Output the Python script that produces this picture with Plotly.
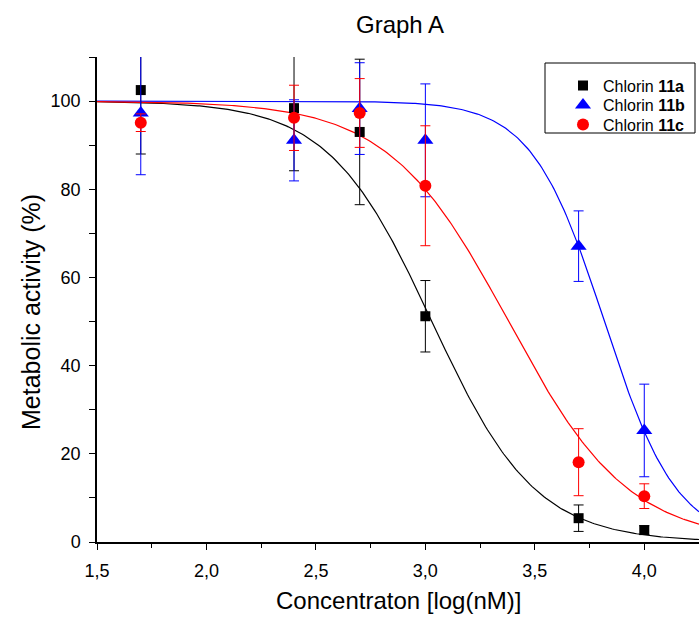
import numpy as np
import plotly.graph_objects as go

# Measured data (log concentration, % metabolic activity, SD)
conc = [1.7, 2.4, 2.7, 3.0, 3.7, 4.0]
y_11a = [102.5, 98.4, 93.0, 51.2, 5.4, 2.7]
e_11a = [14.5, 14.2, 16.5, 8.1, 3.0, 1.0]
y_11b = [97.3, 91.1, 98.3, 91.1, 67.1, 25.3]
e_11b = [14.0, 9.2, 10.4, 12.8, 8.0, 10.5]
y_11c = [95.1, 96.2, 97.3, 80.8, 18.1, 10.4]
e_11c = [2.0, 7.4, 7.8, 13.6, 7.6, 2.8]

# Fitted dose-response parameters (logIC50, Hill slope)
fit_11a = (3.03, 1.84)
fit_11b = (3.818, 2.62)
fit_11c = (3.38, 1.58)
top, bottom = 100.0, 0.0

names = ["Chlorin <b>11a</b>", "Chlorin <b>11b</b>", "Chlorin <b>11c</b>"]
colors = ["black", "blue", "red"]
symbols = ["square", "triangle-up", "circle"]
sizes = [10, 14, 12]
legends = ["legend", "legend2", "legend3"]

xs = np.linspace(1.5, 4.25, 300)

def curve(p):
    logic50, h = p
    return bottom + (top - bottom) / (1 + 10 ** (h * (xs - logic50)))

fig = go.Figure()
for p, c in zip([fit_11a, fit_11b, fit_11c], colors):
    fig.add_trace(go.Scatter(x=xs, y=curve(p), mode="lines",
                             line=dict(color=c, width=1.2),
                             showlegend=False, hoverinfo="skip"))

for ys, es, n, c, s, sz, lg in zip([y_11a, y_11b, y_11c], [e_11a, e_11b, e_11c],
                                   names, colors, symbols, sizes, legends):
    fig.add_trace(go.Scatter(x=conc, y=ys, mode="markers", name=n, legend=lg,
                             marker=dict(color=c, symbol=s, size=sz),
                             error_y=dict(type="data", array=es, visible=True,
                                          color=c, thickness=1, width=5)))

font = "Liberation Sans, Arial, sans-serif"
# legend frame
fig.add_shape(type="rect", xref="paper", yref="paper",
              x0=(545 - 97) / 602, x1=(695 - 97) / 602,
              y0=(542 - 133) / 485, y1=(542 - 63) / 485,
              line=dict(color="black", width=1), fillcolor="white", layer="above")

def leg(row_y):
    return dict(x=(563 - 97) / 602, y=(542 - row_y) / 485, xanchor="left",
                yanchor="middle", borderwidth=0, bgcolor="rgba(0,0,0,0)",
                font=dict(size=16, family=font), itemwidth=30)

# axis titles placed as annotations for exact positions
fig.add_annotation(text="Concentraton [log(nM)]", xref="paper", yref="paper",
                   x=0.5, y=(542 - 600) / 485, xanchor="center", yanchor="middle",
                   showarrow=False, font=dict(size=24, family=font, color="black"))
fig.add_annotation(text="Metabolic activity (%)", xref="paper", yref="paper",
                   x=(31 - 97) / 602, y=(542 - 312) / 485, xanchor="center",
                   yanchor="middle", textangle=-90, showarrow=False,
                   font=dict(size=25, family=font, color="black"))

fig.update_layout(
    width=699, height=623,
    margin=dict(l=97, r=0, t=57, b=81),
    paper_bgcolor="white", plot_bgcolor="white",
    separators=", ",
    font=dict(family=font, color="black"),
    title=dict(text="Graph A", x=400 / 699, xref="container", xanchor="center",
               y=1 - 25 / 623, yref="container", yanchor="middle",
               font=dict(size=24, family=font, color="black")),
    legend=leg(85.5), legend2=leg(105), legend3=leg(124.5),
    showlegend=True,
)
fig.update_xaxes(range=[1.5, 4.25], tickvals=[1.5, 2.0, 2.5, 3.0, 3.5, 4.0],
                 tickformat=".1f", showline=True, linecolor="black", linewidth=1.5,
                 ticks="outside", ticklen=6, tickwidth=1.3, tickcolor="black",
                 minor=dict(dtick=0.25, tick0=1.5, ticks="outside", ticklen=4,
                            tickwidth=1.3, tickcolor="black"),
                 showgrid=False, zeroline=False, ticklabelstandoff=6,
                 tickfont=dict(size=18, family=font))
fig.update_yaxes(range=[0, 110], tickvals=[0, 20, 40, 60, 80, 100],
                 showline=True, linecolor="black", linewidth=1.5,
                 ticks="outside", ticklen=6, tickwidth=1.3, tickcolor="black",
                 minor=dict(dtick=10, tick0=0, ticks="outside", ticklen=6,
                            tickwidth=1.3, tickcolor="black"),
                 showgrid=False, zeroline=False, ticklabelstandoff=5,
                 tickfont=dict(size=18, family=font))

fig.write_html("out.html")
